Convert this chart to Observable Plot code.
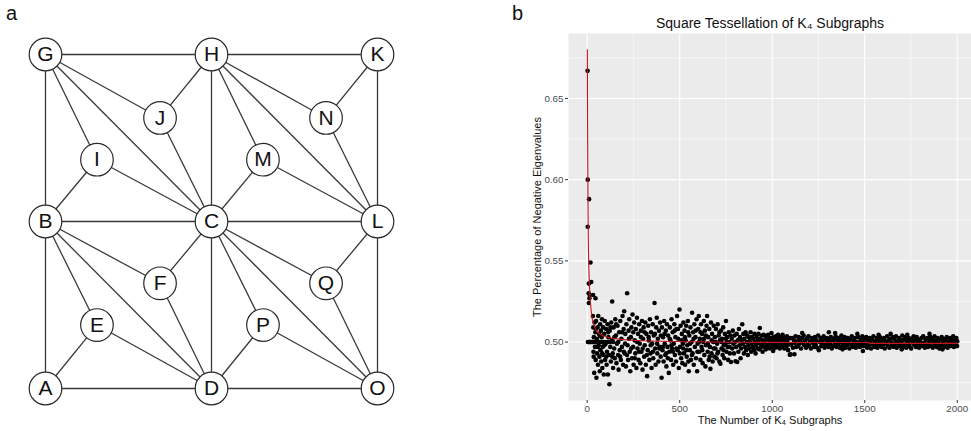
<!DOCTYPE html>
<html><head><meta charset="utf-8">
<script src="https://cdn.jsdelivr.net/npm/d3@7"></script>
<script src="https://cdn.jsdelivr.net/npm/@observablehq/plot@0.6"></script>
<style>
html,body{margin:0;padding:0;background:#fff;}
#fig{position:relative;width:971px;height:431px;overflow:hidden;font-family:"Liberation Sans",Arial,sans-serif;}
#fig .pl{position:absolute;top:0;}
#fig .lab{position:absolute;font-size:20px;color:#111;line-height:1;}
</style></head><body><div id="fig"></div>
<script>
// ---------- Panel a: graph ----------
const nodeNames = ["G","H","K","J","N","I","M","B","C","L","F","Q","E","P","A","D","O"];
const nodeX = [0,1,2,0.69,1.69,0.31,1.31,0,1,2,0.69,1.69,0.31,1.31,0,1,2];
const nodeY = [2,2,2,1.62,1.62,1.37,1.37,1,1,1,0.63,0.63,0.38,0.38,0,0,0];
const edgeList = [["G","H"],["H","K"],["G","B"],["B","A"],["A","D"],["D","O"],["K","L"],["L","O"],
  ["H","C"],["C","D"],["B","C"],["C","L"],["G","J"],["G","I"],["G","C"],["J","H"],["J","C"],["I","B"],["I","C"],
  ["H","M"],["H","L"],["H","N"],["M","C"],["M","L"],["N","K"],["N","L"],["B","F"],["B","D"],["B","E"],["F","C"],
  ["F","D"],["E","A"],["E","D"],["C","P"],["C","O"],["C","Q"],["P","D"],["P","O"],["Q","L"],["Q","O"]];

// ---------- Panel b: scatter ----------
const xTicks = [0,500,1000,1500,2000];
const xMinor = [250,750,1250,1750];
const yTicks = [0.50,0.55,0.60,0.65];
const yMinor = [0.475,0.525,0.575,0.625,0.675];
const titleB = "Square Tessellation of K\u2084 Subgraphs";
const xLabel = "The Number of K\u2084 Subgraphs";
const yLabel = "The Percentage of Negative Eigenvalues";

const ptsEarly = [[2,0.667],[3,0.600],[10,0.588],[3,0.571],[18,0.549],[9,0.536],[22,0.537],[9,0.524],[14,0.529],[32,0.529],[45,0.527],
 [12,0.527],[8,0.530],[4,0.500],[8,0.500],[12,0.500],[16,0.500],[20,0.500],[26,0.500],[30,0.500],[36,0.500],[44,0.500],[52,0.500],
 [60,0.500],[68,0.500],[78,0.500],[88,0.500],[100,0.500],[110,0.500],[122,0.500],[140,0.500]];
const pts30to200 = [[31,0.516],[33,0.509],[34,0.494],[36,0.503],[38,0.481],[40,0.512],[42,0.497],[44,0.506],[46,0.489],[48,0.513],
 [50,0.478],[52,0.502],[54,0.493],[56,0.509],[58,0.486],[60,0.516],[62,0.498],[64,0.505],[66,0.491],[68,0.482],[70,0.511],[72,0.495],
 [74,0.507],[76,0.488],[78,0.503],[80,0.514],[82,0.484],[84,0.497],[86,0.509],[88,0.492],[90,0.480],[92,0.505],[95,0.513],[97,0.489],
 [100,0.499],[102,0.508],[105,0.486],[107,0.494],[110,0.511],[112,0.480],[115,0.503],[118,0.492],[120,0.474],[122,0.507],[125,0.497],
 [128,0.488],[130,0.512],[133,0.501],[135,0.525],[138,0.493],[140,0.484],[143,0.509],[146,0.496],[149,0.490],[152,0.514],[155,0.504],
 [158,0.487],[161,0.499],[164,0.510],[167,0.492],[170,0.483],[173,0.506],[176,0.495],[179,0.513],[182,0.489],[185,0.502],[188,0.497],
 [191,0.516],[194,0.486],[197,0.508],[35,0.491],[47,0.508],[57,0.497],[69,0.504],[81,0.493],[93,0.498],[103,0.491],[113,0.506],
 [126,0.509],[136,0.491],[147,0.503],[157,0.511],[168,0.500],[178,0.491],[189,0.506],[198,0.494]];
const pts200to400 = [[200,0.519],[203,0.493],[206,0.505],[209,0.485],[212,0.511],[216,0.530],[218,0.498],[221,0.489],[224,0.507],
 [227,0.514],[230,0.494],[233,0.482],[236,0.503],[239,0.509],[242,0.490],[245,0.517],[248,0.497],[251,0.486],[254,0.512],[257,0.501],
 [260,0.493],[263,0.508],[266,0.484],[269,0.515],[272,0.496],[275,0.505],[278,0.489],[281,0.511],[284,0.499],[287,0.487],[290,0.507],
 [293,0.494],[296,0.513],[299,0.483],[302,0.502],[305,0.509],[308,0.491],[311,0.498],[314,0.512],[317,0.486],[320,0.505],[324,0.479],
 [327,0.495],[330,0.510],[333,0.501],[336,0.489],[339,0.514],[342,0.493],[345,0.506],[348,0.484],[351,0.499],[354,0.511],[357,0.490],
 [360,0.504],[364,0.524],[367,0.496],[370,0.486],[373,0.509],[376,0.515],[379,0.493],[382,0.502],[385,0.488],[388,0.507],[391,0.497],
 [394,0.512],[397,0.491],[205,0.499],[215,0.492],[226,0.502],[238,0.496],[249,0.506],[258,0.490],[270,0.500],[280,0.494],[291,0.503],
 [300,0.496],[310,0.506],[322,0.492],[332,0.503],[343,0.498],[355,0.494],[366,0.505],[378,0.499],[389,0.496],[398,0.504]];
const pts400to600 = [[402,0.478],[404,0.509],[407,0.495],[410,0.503],[413,0.488],[416,0.513],[419,0.499],[422,0.492],[425,0.507],
 [428,0.485],[431,0.511],[434,0.497],[437,0.504],[441,0.481],[444,0.494],[447,0.509],[450,0.501],[453,0.489],[456,0.514],[459,0.496],
 [462,0.506],[465,0.486],[468,0.499],[471,0.511],[474,0.492],[477,0.503],[480,0.488],[483,0.508],[486,0.516],[489,0.495],[492,0.502],
 [495,0.484],[499,0.520],[502,0.497],[505,0.510],[508,0.490],[511,0.505],[514,0.487],[517,0.499],[520,0.512],[523,0.493],[526,0.507],
 [529,0.486],[532,0.501],[535,0.510],[538,0.491],[541,0.498],[544,0.513],[547,0.488],[549,0.482],[552,0.504],[555,0.495],[558,0.509],
 [561,0.489],[564,0.500],[567,0.518],[570,0.493],[573,0.506],[576,0.486],[579,0.511],[582,0.497],[585,0.503],[588,0.490],[591,0.514],
 [594,0.482],[597,0.499],[409,0.497],[418,0.505],[427,0.493],[436,0.490],[446,0.502],[455,0.498],[464,0.494],[473,0.507],[482,0.496],
 [491,0.508],[501,0.493],[510,0.501],[519,0.496],[528,0.503],[537,0.495],[546,0.506],[556,0.499],[566,0.492],[575,0.502],[586,0.507],
 [596,0.494]];
const pts600to780 = [[600,0.508],[603,0.516],[606,0.494],[609,0.502],[612,0.489],[615,0.511],[618,0.497],[621,0.505],[624,0.487],
 [627,0.500],[630,0.513],[633,0.492],[636,0.507],[639,0.485],[642,0.498],[645,0.510],[648,0.516],[651,0.494],[654,0.503],[657,0.489],
 [660,0.508],[663,0.497],[666,0.4835],[669,0.512],[672,0.493],[675,0.505],[678,0.488],[681,0.500],[684,0.510],[687,0.491],[690,0.503],
 [693,0.496],[696,0.508],[699,0.490],[702,0.499],[705,0.511],[708,0.494],[711,0.504],[714,0.488],[717,0.501],[720,0.4866],[723,0.507],
 [726,0.496],[729,0.502],[732,0.492],[735,0.509],[738,0.498],[741,0.490],[744,0.505],[747,0.499],[750,0.513],[753,0.494],[756,0.503],
 [759,0.497],[762,0.489],[765,0.506],[768,0.500],[771,0.493],[774,0.504],[777,0.4877],[604,0.500],[613,0.506],[622,0.495],[632,0.502],
 [641,0.504],[652,0.499],[662,0.491],[673,0.501],[683,0.496],[694,0.500],[704,0.493],[715,0.506],[725,0.500],[737,0.495],[748,0.502],
 [758,0.500],[769,0.497]];
const pts780to1100 = [[781,0.502],[784,0.496],[787,0.507],[790,0.499],[793,0.493],[796,0.504],[799,0.500],[802,0.4882],[805,0.497],
 [808,0.505],[811,0.4877],[814,0.501],[817,0.494],[820,0.508],[823,0.498],[826,0.503],[829,0.490],[832,0.496],[835,0.501],[838,0.511],
 [841,0.499],[844,0.505],[847,0.493],[850,0.502],[853,0.497],[856,0.506],[859,0.495],[862,0.500],[865,0.504],[868,0.492],[871,0.498],
 [874,0.503],[877,0.496],[880,0.501],[883,0.506],[886,0.494],[889,0.499],[892,0.503],[895,0.497],[898,0.502],[901,0.495],[904,0.505],
 [907,0.500],[910,0.493],[913,0.498],[916,0.503],[919,0.496],[922,0.501],[925,0.505],[928,0.4995],[931,0.4955],[933,0.5086],[936,0.502],
 [939,0.497],[942,0.504],[945,0.499],[948,0.494],[951,0.501],[954,0.5045],[957,0.497],[960,0.500],[963,0.5035],[966,0.4955],[969,0.499],
 [972,0.502],[975,0.497],[978,0.5045],[981,0.4985],[984,0.501],[987,0.496],[990,0.5025],[993,0.4995],[996,0.5055],[999,0.497],
 [1002,0.5005],[1005,0.4945],[1008,0.503],[1011,0.4985],[1014,0.501],[1017,0.4965],[1020,0.5035],[1023,0.4995],[1026,0.5015],
 [1029,0.497],[1032,0.5045],[1035,0.4985],[1038,0.5005],[1041,0.496],[1044,0.503],[1047,0.4995],[1050,0.5015],[1053,0.4975],
 [1056,0.5045],[1059,0.499],[1062,0.5005],[1065,0.496],[1068,0.503],[1071,0.4985],[1074,0.5015],[1077,0.497],[1080,0.5035],
 [1083,0.4995],[1086,0.495],[1089,0.502],[1092,0.4985],[1095,0.4922],[1098,0.5025],[1099,0.4924]];
const pts1100to1500 = [[1103,0.4985],[1108,0.5025],[1112,0.4965],[1117,0.501],[1120,0.4925],[1122,0.4995],[1126,0.5035],[1130,0.497],
 [1135,0.5005],[1139,0.4975],[1143,0.503],[1148,0.499],[1152,0.5015],[1156,0.496],[1161,0.5025],[1162,0.5056],[1166,0.4995],[1170,0.504],
 [1174,0.498],[1179,0.501],[1183,0.4965],[1187,0.502],[1192,0.4985],[1196,0.5035],[1200,0.4975],[1205,0.5005],[1209,0.496],[1213,0.5025],
 [1218,0.4995],[1222,0.5015],[1226,0.497],[1231,0.503],[1235,0.4985],[1239,0.501],[1244,0.4965],[1248,0.504],[1252,0.495],[1257,0.500],
 [1261,0.5025],[1265,0.4975],[1270,0.501],[1274,0.499],[1278,0.5035],[1283,0.4965],[1287,0.5015],[1291,0.498],[1296,0.5025],[1300,0.4995],
 [1304,0.497],[1306,0.506],[1309,0.501],[1313,0.4985],[1317,0.503],[1322,0.496],[1326,0.5005],[1330,0.4975],[1335,0.502],[1339,0.499],
 [1340,0.5055],[1343,0.5035],[1348,0.497],[1352,0.501],[1356,0.4985],[1361,0.5025],[1365,0.4965],[1369,0.500],[1374,0.504],[1378,0.4975],
 [1380,0.4955],[1382,0.5015],[1387,0.499],[1391,0.503],[1395,0.4965],[1400,0.5005],[1404,0.498],[1408,0.5025],[1413,0.4995],[1417,0.496],
 [1421,0.5015],[1426,0.4985],[1430,0.5035],[1434,0.497],[1439,0.501],[1443,0.499],[1447,0.5025],[1452,0.4965],[1456,0.500],[1460,0.505],
 [1461,0.498],[1465,0.503],[1469,0.4995],[1474,0.497],[1478,0.5015],[1482,0.4985],[1487,0.5035],[1490,0.4945],[1491,0.500],[1495,0.4975],
 [1500,0.502]];
const pts1500to2000 = [[1504,0.499],[1508,0.503],[1513,0.4965],[1517,0.501],[1521,0.498],[1526,0.5025],[1530,0.4995],[1534,0.496],
 [1539,0.5015],[1543,0.4985],[1547,0.5035],[1552,0.497],[1556,0.5005],[1560,0.499],[1565,0.5025],[1569,0.4965],[1573,0.501],[1575,0.5045],
 [1578,0.498],[1582,0.503],[1586,0.4995],[1591,0.497],[1595,0.5015],[1599,0.4985],[1604,0.5025],[1608,0.496],[1612,0.5005],[1617,0.499],
 [1621,0.5035],[1625,0.4975],[1630,0.501],[1634,0.4965],[1638,0.502],[1640,0.505],[1643,0.4995],[1647,0.498],[1651,0.503],[1656,0.497],
 [1660,0.5015],[1664,0.499],[1669,0.5035],[1673,0.4965],[1677,0.5005],[1682,0.4985],[1686,0.5025],[1690,0.4975],[1695,0.501],[1699,0.4995],
 [1700,0.4955],[1703,0.504],[1708,0.497],[1712,0.5015],[1716,0.4985],[1721,0.503],[1725,0.4965],[1729,0.5005],[1730,0.5045],[1734,0.499],
 [1738,0.5025],[1742,0.4975],[1747,0.501],[1751,0.496],[1755,0.502],[1760,0.4995],[1764,0.5035],[1768,0.498],[1773,0.501],[1777,0.497],
 [1781,0.503],[1786,0.499],[1790,0.5015],[1794,0.4965],[1799,0.5005],[1803,0.4985],[1807,0.5025],[1812,0.4975],[1816,0.5035],[1820,0.4995],
 [1825,0.4965],[1829,0.5015],[1833,0.4985],[1838,0.5025],[1842,0.497],[1846,0.5005],[1850,0.505],[1851,0.499],[1855,0.503],[1859,0.4975],
 [1864,0.5015],[1868,0.4965],[1872,0.500],[1877,0.5035],[1881,0.4985],[1885,0.501],[1890,0.497],[1894,0.5025],[1898,0.4995],[1903,0.496],
 [1907,0.5015],[1911,0.498],[1916,0.503],[1920,0.4955],[1922,0.4995],[1926,0.502],[1930,0.497],[1935,0.501],[1939,0.4985],[1943,0.503],
 [1948,0.4965],[1952,0.5005],[1956,0.499],[1961,0.5025],[1965,0.4975],[1969,0.5015],[1974,0.4995],[1978,0.5035],[1982,0.497],[1987,0.501],
 [1991,0.4985],[1995,0.5025],[1999,0.4975],[2000,0.5005]];

const redX = [1,2,3,4,5,7,9,12,15,20,25,30,40,55,75,100,130,170,220,300,400,550,750,1000,1300,1520,1525,2000];
const redY = [0.680,0.635,0.612,0.590,0.575,0.556,0.545,0.535,0.528,0.521,0.516,0.513,0.509,0.506,0.5045,0.5033,0.5025,0.5018,
 0.5013,0.5008,0.5005,0.5002,0.4999,0.4998,0.4997,0.4997,0.4992,0.4992];

// ---------- build ----------
const FONT = "'Liberation Sans', Arial, sans-serif";
const fig = document.getElementById("fig");

const nodes = nodeNames.map((n, i) => ({name: n, x: nodeX[i], y: nodeY[i]}));
const pos = Object.fromEntries(nodes.map(d => [d.name, d]));
const edges = edgeList.map(([a, b]) => ({x1: pos[a].x, y1: pos[a].y, x2: pos[b].x, y2: pos[b].y}));

const plotA = Plot.plot({
  width: 420, height: 431,
  marginLeft: 45, marginRight: 43, marginTop: 54, marginBottom: 43,
  style: {fontFamily: FONT, background: "transparent"},
  x: {domain: [0, 2], axis: null},
  y: {domain: [0, 2], axis: null},
  marks: [
    Plot.link(edges, {x1: "x1", y1: "y1", x2: "x2", y2: "y2", stroke: "#3a3a3a", strokeWidth: 1.3}),
    Plot.dot(nodes, {x: "x", y: "y", r: 16.3, fill: "white", stroke: "#2a2a2a", strokeWidth: 1.2}),
    Plot.text(nodes, {x: "x", y: "y", text: "name", fontSize: 21, fill: "#111"})
  ]
});
plotA.classList.add("pl");
plotA.style.left = "0px";
fig.appendChild(plotA);

const scatter = [...ptsEarly, ...pts30to200, ...pts200to400, ...pts400to600, ...pts600to780,
  ...pts780to1100, ...pts1100to1500, ...pts1500to2000].map(([n, p]) => ({n, p}));
const red = redX.map((n, i) => ({n, p: redY[i]}));

const plotB = Plot.plot({
  width: 471, height: 431,
  marginLeft: 68, marginRight: 0, marginTop: 33, marginBottom: 31,
  style: {fontFamily: FONT, background: "transparent"},
  x: {domain: [-101, 2077], label: null},
  y: {domain: [0.464, 0.690], label: null},
  marks: [
    Plot.frame({fill: "#ebebeb", stroke: null}),
    Plot.ruleX(xMinor, {stroke: "white", strokeWidth: 0.55}),
    Plot.ruleY(yMinor, {stroke: "white", strokeWidth: 0.55}),
    Plot.ruleX(xTicks, {stroke: "white", strokeWidth: 1.1}),
    Plot.ruleY(yTicks, {stroke: "white", strokeWidth: 1.1}),
    Plot.axisX({ticks: xTicks, tickFormat: d => String(d), tickSize: 3, tickPadding: 1.5, fontSize: 9.8,
      stroke: "#333", fill: "#4d4d4d", label: null}),
    Plot.axisY({ticks: yTicks, tickFormat: d3.format(".2f"), tickSize: 3, tickPadding: 2, fontSize: 9.8,
      stroke: "#333", fill: "#4d4d4d", label: null}),
    Plot.dot(scatter, {x: "n", y: "p", r: 2.3, fill: "black", stroke: null}),
    Plot.line(red, {x: "n", y: "p", stroke: "#c8141c", strokeWidth: 1.1}),
    Plot.text([titleB], {text: d => d, frameAnchor: "top", dy: -15, fontSize: 14, fill: "#111"}),
    Plot.text([xLabel], {text: d => d, frameAnchor: "bottom", textAnchor: "middle", dy: 23.5, fontSize: 11, fill: "#111"}),
    Plot.text([yLabel], {text: d => d, frameAnchor: "left", textAnchor: "middle", dx: -31, rotate: -90, fontSize: 11, fill: "#111"})
  ]
});
plotB.classList.add("pl");
plotB.style.left = "500px";
fig.appendChild(plotB);

const la = document.createElement("div");
la.className = "lab"; la.textContent = "a"; la.style.left = "6px"; la.style.top = "3px";
fig.appendChild(la);
const lb = document.createElement("div");
lb.className = "lab"; lb.textContent = "b"; lb.style.left = "512px"; lb.style.top = "3px";
fig.appendChild(lb);
</script></body></html>
